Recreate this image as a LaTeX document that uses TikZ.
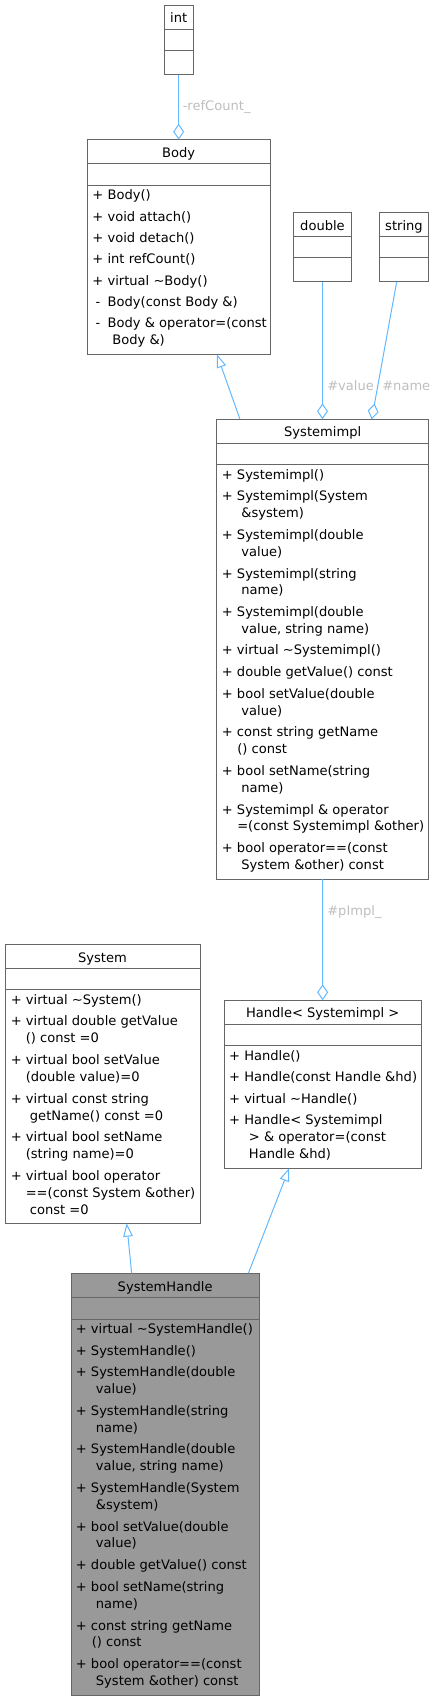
\documentclass[tikz,border=0pt]{standalone}
\usepackage{fontspec}
\setmainfont{DejaVu Sans}
\usepackage{tikz}
\usetikzlibrary{arrows.meta}
\usetikzlibrary{calc}

\definecolor{edgeblue}{HTML}{63B8FF}
\definecolor{clsgray}{HTML}{666666}
\definecolor{lblgray}{HTML}{BEBEBE}
\definecolor{mainfill}{HTML}{999999}

\begin{document}
\begin{tikzpicture}[x=0.75pt,y=0.75pt,yscale=-1,xscale=1,
  cls/.style={draw=clsgray,fill=white,line width=0.75pt,inner sep=0pt,outer sep=0pt,anchor=north west},
  sepline/.style={draw=clsgray,line width=0.75pt},
  ttl/.style={font=\fontsize{9.8}{12}\selectfont,anchor=base,inner sep=0pt},
  op/.style={font=\fontsize{9.8}{12}\selectfont,anchor=base west,inner sep=0pt},
  elabel/.style={font=\fontsize{9.8}{12}\selectfont,text=lblgray,anchor=base west,inner sep=0pt},
  aggr/.style={draw=edgeblue,line width=0.75pt,-{Diamond[open,length=12pt,width=8.2pt]}},
  inh/.style={draw=edgeblue,line width=0.75pt,-{Triangle[open,length=10pt,width=7.2pt]}}]
\useasboundingbox (0,0) rectangle (435,1700);

%Shape: Class Box int
\node[cls,minimum width=21.98pt,minimum height=52.28pt] (intcls) at (164,5) {};
\draw[sepline] (164,29.3) -- (193.3,29.3);
\draw[sepline] (164,50.7) -- (193.3,50.7);
% Text Node
\node[ttl] (intT) at (178.65,22.6) {int};

%Shape: Class Box Body
\node[cls,minimum width=137.03pt,minimum height=160.95pt] (body) at (87.3,139.7) {};
\draw[sepline] (87.3,163.7) -- (270,163.7);
\draw[sepline] (87.3,185) -- (270,185);
% Text Node
\node[ttl] (bodyT) at (178.65,157.3) {Body};
\node[op] (body1) at (92.2,199.3) {+ Body()};
\node[op] (body2) at (92.2,221) {+ void attach()};
\node[op] (body3) at (92.2,242.3) {+ void detach()};
\node[op] (body4) at (92.2,263.3) {+ int refCount()};
\node[op] (body5) at (92.2,285) {+ virtual \textasciitilde Body()};
\node[op] (body6) at (92.2,306.3) {\makebox[8.3pt]{-} Body(const Body \&)};
\node[op] (body7) at (92.2,327.7) {\makebox[8.3pt]{-} Body \& operator=(const};
\node[op] (body7b) at (108,344.3) {\ Body \&)};

%Shape: Class Box double
\node[cls,minimum width=43.2pt,minimum height=52.28pt] (dbl) at (293.7,212) {};
\draw[sepline] (293.7,236.3) -- (351.3,236.3);
\draw[sepline] (293.7,257.7) -- (351.3,257.7);
% Text Node
\node[ttl] (dblT) at (322.5,230) {double};

%Shape: Class Box string
\node[cls,minimum width=37.05pt,minimum height=52.28pt] (str) at (379.3,212) {};
\draw[sepline] (379.3,236.3) -- (428.7,236.3);
\draw[sepline] (379.3,257.7) -- (428.7,257.7);
% Text Node
\node[ttl] (strT) at (404,230) {string};

%Shape: Class Box Systemimpl
\node[cls,minimum width=159pt,minimum height=344.78pt] (impl) at (216.7,419.3) {};
\draw[sepline] (216.7,443) -- (428.7,443);
\draw[sepline] (216.7,464.7) -- (428.7,464.7);
% Text Node
\node[ttl] (implT) at (322.7,436.6) {Systemimpl};
\node[op] (impl1) at (221.6,479.3) {+ Systemimpl()};
\node[op] (impl2) at (221.6,500.7) {+ Systemimpl(System};
\node[op] (impl2b) at (237,517.3) {\ \&system)};
\node[op] (impl3) at (221.6,539.3) {+ Systemimpl(double};
\node[op] (impl3b) at (237,556) {\ value)};
\node[op] (impl4) at (221.6,578) {+ Systemimpl(string};
\node[op] (impl4b) at (237,594.7) {\ name)};
\node[op] (impl5) at (221.6,616.3) {+ Systemimpl(double};
\node[op] (impl5b) at (237,633) {\ value, string name)};
\node[op] (impl6) at (221.6,654.7) {+ virtual \textasciitilde Systemimpl()};
\node[op] (impl7) at (221.6,676.3) {+ double getValue() const};
\node[op] (impl8) at (221.6,698.3) {+ bool setValue(double};
\node[op] (impl8b) at (237,715) {\ value)};
\node[op] (impl9) at (221.6,736.7) {+ const string getName};
\node[op] (impl9b) at (237,753.3) {() const};
\node[op] (impl10) at (221.6,775.3) {+ bool setName(string};
\node[op] (impl10b) at (237,792) {\ name)};
\node[op] (impl11) at (221.6,814) {+ Systemimpl \& operator};
\node[op] (impl11b) at (237,830.7) {=(const Systemimpl \&other)};
\node[op] (impl12) at (221.6,852.3) {+ bool operator==(const};
\node[op] (impl12b) at (237,869) {\ System \&other) const};

%Shape: Class Box System
\node[cls,minimum width=146.25pt,minimum height=209.48pt] (sys) at (5,944) {};
\draw[sepline] (5,968.3) -- (200,968.3);
\draw[sepline] (5,989.7) -- (200,989.7);
% Text Node
\node[ttl] (sysT) at (102.5,962) {System};
\node[op] (sys1) at (10.6,1004) {+ virtual \textasciitilde System()};
\node[op] (sys2) at (10.6,1025.7) {+ virtual double getValue};
\node[op] (sys2b) at (25.5,1042.3) {() const =0};
\node[op] (sys3) at (10.6,1064) {+ virtual bool setValue};
\node[op] (sys3b) at (25.5,1081) {(double value)=0};
\node[op] (sys4) at (10.6,1103) {+ virtual const string};
\node[op] (sys4b) at (25.5,1120) {\ getName() const =0};
\node[op] (sys5) at (10.6,1141.3) {+ virtual bool setName};
\node[op] (sys5b) at (25.5,1158.3) {(string name)=0};
\node[op] (sys6) at (10.6,1180.3) {+ virtual bool operator};
\node[op] (sys6b) at (25.5,1197.3) {==(const System \&other)};
\node[op] (sys6c) at (25.5,1214.7) {\ const =0};

%Shape: Class Box Handle
\node[cls,minimum width=147.98pt,minimum height=125.78pt] (hdl) at (224,1000.3) {};
\draw[sepline] (224,1024.3) -- (421.3,1024.3);
\draw[sepline] (224,1045.7) -- (421.3,1045.7);
% Text Node
\node[ttl] (hdlT) at (322.65,1017.6) {Handle< Systemimpl >};
\node[op] (hdl1) at (228.9,1060) {+ Handle()};
\node[op] (hdl2) at (228.9,1081.3) {+ Handle(const Handle \&hd)};
\node[op] (hdl3) at (228.9,1103) {+ virtual \textasciitilde Handle()};
\node[op] (hdl4) at (228.9,1124) {+ Handle< Systemimpl};
\node[op] (hdl4b) at (244.5,1141.3) {\ > \& operator=(const};
\node[op] (hdl4c) at (244.5,1158.3) {\ Handle \&hd)};

%Shape: Class Box SystemHandle
\node[cls,fill=mainfill,minimum width=141.23pt,minimum height=316.28pt] (sh) at (71,1273.3) {};
\draw[sepline] (71,1297.7) -- (259.3,1297.7);
\draw[sepline] (71,1319) -- (259.3,1319);
% Text Node
\node[ttl] (shT) at (165.15,1291.3) {SystemHandle};
\node[op] (sh1) at (75.6,1333.3) {+ virtual \textasciitilde SystemHandle()};
\node[op] (sh2) at (75.6,1355.3) {+ SystemHandle()};
\node[op] (sh3) at (75.6,1376.7) {+ SystemHandle(double};
\node[op] (sh3b) at (91.5,1393.3) {\ value)};
\node[op] (sh4) at (75.6,1415.3) {+ SystemHandle(string};
\node[op] (sh4b) at (91.5,1432) {\ name)};
\node[op] (sh5) at (75.6,1453.7) {+ SystemHandle(double};
\node[op] (sh5b) at (91.5,1470.3) {\ value, string name)};
\node[op] (sh6) at (75.6,1492.3) {+ SystemHandle(System};
\node[op] (sh6b) at (91.5,1509) {\ \&system)};
\node[op] (sh7) at (75.6,1531) {+ bool setValue(double};
\node[op] (sh7b) at (91.5,1547.7) {\ value)};
\node[op] (sh8) at (75.6,1569.3) {+ double getValue() const};
\node[op] (sh9) at (75.6,1591.3) {+ bool setName(string};
\node[op] (sh9b) at (91.5,1608) {\ name)};
\node[op] (sh10) at (75.6,1630) {+ const string getName};
\node[op] (sh10b) at (91.5,1646.7) {() const};
\node[op] (sh11) at (75.6,1668.7) {+ bool operator==(const};
\node[op] (sh11b) at (91.5,1685.3) {\ System \&other) const};

%Straight Lines: members
\draw[aggr] (intcls.south) -- (body.north);
\draw[aggr] (dbl.south) -- (impl.north -| dbl.south);
\draw[aggr] ($(str.south)+(-7.3,0)$) -- ($(impl.north)+(49,0)$);
\draw[aggr] (impl.south) -- (hdl.north);

%Straight Lines: inheritance
\draw[inh] ($(impl.north)+(-82.7,0)$) -- ($(body.south)+(38.3,0)$);
\draw[inh] ($(sh.north)+(-33.5,0)$) -- ($(sys.south)+(24.2,0)$);
\draw[inh] ($(sh.north)+(83.2,0)$) -- ($(hdl.south)+(-33.4,0)$);

% Text Node
\node[elabel] (lblref) at (182.5,110.7) {-refCount\_};
\node[elabel] (lblval) at (327,390.7) {\#value};
\node[elabel] (lblname) at (382,390.7) {\#name};
\node[elabel] (lblimpl) at (327,915.7) {\#pImpl\_};

\end{tikzpicture}
\end{document}
